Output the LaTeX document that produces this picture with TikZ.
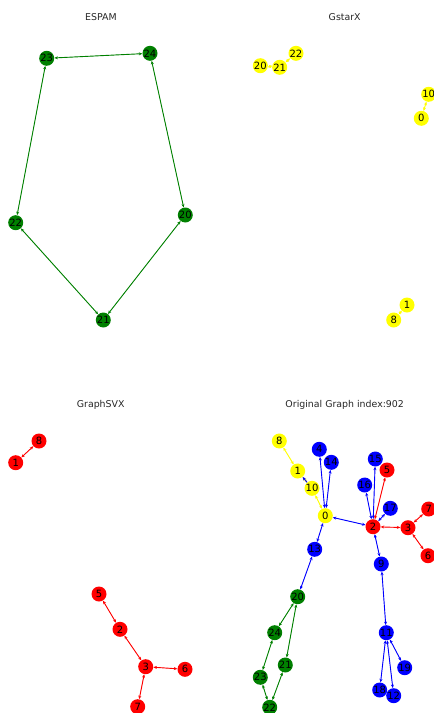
\documentclass[tikz,border=0pt]{standalone}
\usepackage{fontspec}
\setmainfont{DejaVu Sans}
\usetikzlibrary{arrows.meta}
\definecolor{ngreen}{HTML}{008000}
\definecolor{nblue}{HTML}{0000FF}
\definecolor{nred}{HTML}{FF0000}
\definecolor{nyellow}{HTML}{FFFF00}
\definecolor{ttl}{HTML}{262626}
\tikzset{
  vtx/.style={circle, inner sep=0pt, minimum size=15pt, text=black, font=\fontsize{10}{10}\selectfont},
  gv/.style={vtx, fill=ngreen},
  bv/.style={vtx, fill=nblue},
  rv/.style={vtx, fill=nred},
  yv/.style={vtx, fill=nyellow},
  ttlstyle/.style={text=ttl, font=\fontsize{9.4}{11}\selectfont},
  ed/.style={line width=0.9pt, {Stealth[length=3.5pt,width=3pt]}-{Stealth[length=3.5pt,width=3pt]}, shorten <=0pt, shorten >=0pt},
  ge/.style={ed, draw=ngreen, fill=ngreen},
  be/.style={ed, draw=nblue, fill=nblue},
  re/.style={ed, draw=nred, fill=nred},
  ye/.style={ed, draw=nyellow, fill=nyellow},
}
\begin{document}
\begin{tikzpicture}[x=1pt,y=-1pt]
\useasboundingbox (0,0) rectangle (434,713);
\clip (0,0) rectangle (434,713);
% ---------- ESPAM ----------
\node[ttlstyle] (t1) at (101,17) {ESPAM};
\node[gv] (a23) at (46.7,58.3) {23};
\node[gv] (a24) at (150,53.3) {24};
\node[gv] (a22) at (15.7,222.7) {22};
\node[gv] (a20) at (185.3,215) {20};
\node[gv] (a21) at (103.3,320) {21};
\draw[ge] (a23) -- (a24);
\draw[ge] (a24) -- (a20);
\draw[ge] (a20) -- (a21);
\draw[ge] (a21) -- (a22);
\draw[ge] (a22) -- (a23);
% ---------- GstarX ----------
\node[ttlstyle] (t2) at (344.7,17) {GstarX};
\node[yv] (b22) at (296,53.3) {22};
\node[yv] (b20) at (260.3,65.7) {20};
\node[yv] (b21) at (279.7,67.3) {21};
\node[yv] (b10) at (428.7,94.3) {10};
\node[yv] (b0) at (421.3,118.3) {0};
\node[yv] (b1) at (407,305) {1};
\node[yv] (b8) at (393.7,320) {8};
\draw[ye] (b20) -- (b21);
\draw[ye] (b21) -- (b22);
\draw[ye] (b0) -- (b10);
\draw[ye] (b8) -- (b1);
% ---------- GraphSVX ----------
\node[ttlstyle] (t3) at (100.7,405) {GraphSVX};
\node[rv] (c8) at (39,441) {8};
\node[rv] (c1) at (15.7,462.7) {1};
\node[rv] (c5) at (99,594) {5};
\node[rv] (c2) at (120,629.3) {2};
\node[rv] (c3) at (145.7,666.7) {3};
\node[rv] (c6) at (185,669.3) {6};
\node[rv] (c7) at (137.7,706.7) {7};
\draw[re] (c1) -- (c8);
\draw[re] (c5) -- (c2);
\draw[re] (c2) -- (c3);
\draw[re] (c3) -- (c6);
\draw[re] (c3) -- (c7);
% ---------- Original ----------
\node[ttlstyle] (t4) at (344.7,405) {Original Graph index:902};
\node[yv] (d8) at (279.3,441) {8};
\node[bv] (d4) at (319.3,449.3) {4};
\node[bv] (d14) at (331.3,462.3) {14};
\node[yv] (d1) at (297.7,471) {1};
\node[yv] (d10) at (312,488.3) {10};
\node[yv] (d0) at (325.3,515.7) {0};
\node[bv] (d15) at (375.3,459) {15};
\node[rv] (d5) at (387,470) {5};
\node[bv] (d16) at (364.7,485) {16};
\node[bv] (d17) at (390.3,508.3) {17};
\node[rv] (d2) at (373,526.7) {2};
\node[rv] (d3) at (408,527.7) {3};
\node[rv] (d7) at (428.7,509) {7};
\node[rv] (d6) at (428,555.7) {6};
\node[bv] (d9) at (381.3,564) {9};
\node[bv] (d13) at (314.7,549.3) {13};
\node[gv] (d20) at (297.7,596.7) {20};
\node[gv] (d24) at (274.7,632.7) {24};
\node[gv] (d21) at (285.3,665) {21};
\node[gv] (d23) at (260.3,677.3) {23};
\node[gv] (d22) at (269.7,707.3) {22};
\node[bv] (d11) at (386.3,632.7) {11};
\node[bv] (d19) at (404.7,667.7) {19};
\node[bv] (d18) at (379.7,690) {18};
\node[bv] (d12) at (393.7,695.7) {12};
\draw[ye] (d8) -- (d1);
\draw[ye] (d10) -- (d1);
\draw[be, -{Stealth[length=3.5pt,width=3pt]}] (d10) -- (d1);
\draw[ye] (d10) -- (d0);
\draw[be] (d0) -- (d4);
\draw[be] (d0) -- (d14);
\draw[be] (d0) -- (d2);
\draw[be] (d0) -- (d13);
\draw[be] (d13) -- (d20);
\draw[ge] (d20) -- (d24);
\draw[ge] (d20) -- (d21);
\draw[ge] (d24) -- (d23);
\draw[ge] (d23) -- (d22);
\draw[ge] (d21) -- (d22);
\draw[be] (d2) -- (d15);
\draw[be] (d2) -- (d16);
\draw[re] (d2) -- (d5);
\draw[be] (d2) -- (d17);
\draw[re] (d2) -- (d3);
\draw[re] (d3) -- (d7);
\draw[re] (d3) -- (d6);
\draw[be] (d2) -- (d9);
\draw[be] (d9) -- (d11);
\draw[be] (d11) -- (d19);
\draw[be] (d11) -- (d18);
\draw[be] (d11) -- (d12);
\end{tikzpicture}
\end{document}
